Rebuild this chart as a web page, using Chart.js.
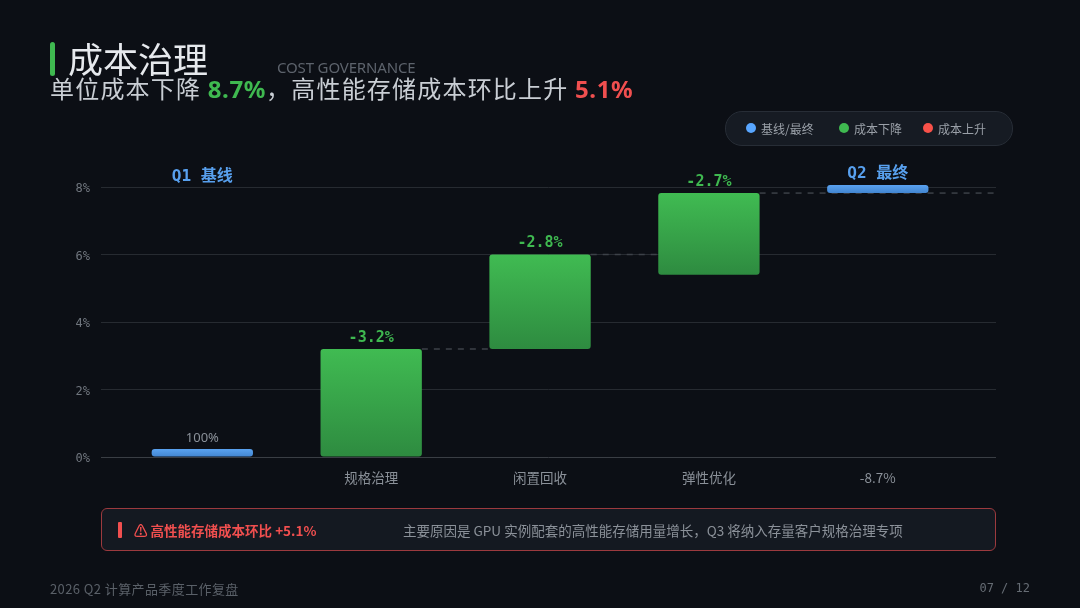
<!DOCTYPE html>
<html lang="zh">
<head>
<meta charset="utf-8">
<style>
  html, body { margin: 0; padding: 0; background: #0c0f15; }
  body { width: 1080px; height: 608px; position: relative; overflow: hidden; font-family: "Noto Sans CJK SC", "Noto Sans", sans-serif; }
  #cost { position: absolute; left: 0; top: 0; }
  .abs { position: absolute; white-space: nowrap; }
  #accent { left: 50px; top: 42px; width: 5px; height: 34px; background: #3fb950; border-radius: 3px; }
  #title { left: 68px; top: 34px; font-size: 35px; line-height: 48px; color: #e6e9ed; }
  #en { left: 277px; top: 57px; font-size: 15px; line-height: 20px; letter-spacing: -0.15px; color: #5d636c; font-family: "Noto Sans", sans-serif; }
  #sub { left: 50px; top: 70px; font-size: 24px; line-height: 36px; color: #c9ced4; letter-spacing: 1.2px; }
  #sub b { font-family: "Noto Sans", sans-serif; font-weight: 700; letter-spacing: 0.6px; }
  #legend { left: 725px; top: 111px; width: 286px; height: 33px; background: #161b23; border: 1px solid #272d36; border-radius: 17px; }
  .item { position: absolute; top: 0; line-height: 34px; font-size: 12px; color: #9aa0a8; }
  .item i { position: absolute; left: -15px; top: 11px; width: 10px; height: 10px; border-radius: 50%; }
  #callout { left: 101px; top: 508px; width: 893px; height: 41px; background: #141921; border: 1px solid #9c3a3e; border-radius: 6px; }
  #mark { left: 16px; top: 13px; width: 4px; height: 16px; background: #f04f4f; border-radius: 1px; }
  #warn { left: 32px; top: 0; line-height: 43px; font-size: 13.5px; font-weight: 700; color: #f04f4f; }
  #note { left: 301px; top: 0; line-height: 43px; font-size: 13.5px; color: #8b9199; }
  #foot { left: 50px; top: 579px; font-size: 13px; line-height: 20px; letter-spacing: 0.4px; color: #5a6068; }
  #page { right: 50px; top: 578px; font-size: 12px; line-height: 20px; color: #666c74; font-family: "DejaVu Sans Mono", monospace; }
</style>
</head>
<body>
<canvas id="cost" width="1080" height="608"></canvas>
<div class="abs" id="accent"></div>
<div class="abs" id="title">成本治理</div>
<div class="abs" id="en">COST GOVERNANCE</div>
<div class="abs" id="sub">单位成本下降 <b style="color:#3fb950">8.7%</b>，高性能存储成本环比上升 <b style="color:#f04f4f">5.1%</b></div>
<div class="abs" id="legend">
  <div class="item" style="left:35px"><i style="background:#58a6ff"></i>基线/最终</div>
  <div class="item" style="left:128px"><i style="background:#3fb950"></i>成本下降</div>
  <div class="item" style="left:212px"><i style="background:#f85149"></i>成本上升</div>
</div>
<div class="abs" id="callout">
  <div class="abs" id="mark"></div>
  <div class="abs" id="warn">⚠ 高性能存储成本环比 +5.1%</div>
  <div class="abs" id="note">主要原因是 GPU 实例配套的高性能存储用量增长，Q3 将纳入存量客户规格治理专项</div>
</div>
<div class="abs" id="foot">2026 Q2 计算产品季度工作复盘</div>
<div class="abs" id="page">07 / 12</div>

<script src="https://cdn.jsdelivr.net/npm/chart.js@4"></script>
<script>
const categories = ['', '规格治理', '闲置回收', '弹性优化', '-8.7%'];
const barLow = [0, 0, 3.2, 5.4, 7.82];
const barHigh = [0.24, 3.2, 6.0, 7.82, 8.06];
const barKinds = ['total', 'down', 'down', 'down', 'total'];
const valueLabels = ['100%', '-3.2%', '-2.8%', '-2.7%', ''];
const headLabels = ['Q1 基线', '', '', '', 'Q2 最终'];
const yTicks = [0, 2, 4, 6, 8];

const gradientStops = {
  total: ['#5aa2f0', '#4285d0'],
  down: ['#40bb52', '#2e8b40']
};

function barFill(ctx) {
  const chart = ctx.chart;
  if (!chart.chartArea || ctx.dataIndex === undefined) return '#3fb950';
  const y = chart.scales.y;
  const g = chart.ctx.createLinearGradient(0, y.getPixelForValue(barHigh[ctx.dataIndex]), 0, y.getPixelForValue(barLow[ctx.dataIndex]));
  const stops = gradientStops[barKinds[ctx.dataIndex]];
  g.addColorStop(0, stops[0]);
  g.addColorStop(1, stops[1]);
  return g;
}

// dashed connectors + text above the bars
const waterfall = {
  id: 'waterfall',
  beforeDatasetsDraw(chart) {
    const c = chart.ctx, y = chart.scales.y, bars = chart.getDatasetMeta(0).data;
    c.save();
    c.strokeStyle = '#3c4148';
    c.lineWidth = 1.5;
    c.setLineDash([6, 6]);
    for (let i = 1; i < 4; i++) {
      const py = y.getPixelForValue(barHigh[i]);
      const end = i === 3 ? chart.chartArea.right : bars[i + 1].x - bars[i + 1].width / 2;
      c.beginPath();
      c.moveTo(bars[i].x + bars[i].width / 2, py);
      c.lineTo(end, py);
      c.stroke();
    }
    c.restore();
  },
  afterDatasetsDraw(chart) {
    const c = chart.ctx, y = chart.scales.y, bars = chart.getDatasetMeta(0).data;
    c.save();
    c.textAlign = 'center';
    c.textBaseline = 'middle';
    bars.forEach((bar, i) => {
      const top = y.getPixelForValue(barHigh[i]);
      if (valueLabels[i]) {
        const isPlain = barKinds[i] === 'total';
        c.font = isPlain ? '13px "Noto Sans", sans-serif' : 'bold 15px "DejaVu Sans Mono", monospace';
        c.fillStyle = isPlain ? '#8b9199' : '#3fb950';
        c.fillText(valueLabels[i], bar.x, top - 11);
      }
      if (headLabels[i]) {
        c.font = 'bold 16px "DejaVu Sans Mono", "Noto Sans CJK SC", monospace';
        c.fillStyle = '#58a0ee';
        c.fillText(headLabels[i], bar.x, i === 0 ? y.getPixelForValue(8) - 10 : top - 11);
      }
    });
    c.restore();
  }
};

new Chart(document.getElementById('cost'), {
  type: 'bar',
  data: {
    datasets: [{
      data: categories.map((name, i) => ({ x: i, y: [barLow[i], barHigh[i]] })),
      backgroundColor: barFill,
      borderRadius: 3,
      borderSkipped: false,
      borderWidth: 0,
      categoryPercentage: 0.6,
      barPercentage: 1,
      clip: false
    }]
  },
  options: {
    responsive: false,
    animation: false,
    events: [],
    layout: { padding: { top: 187, right: 84, left: 0, bottom: 0 } },
    plugins: { legend: { display: false }, tooltip: { enabled: false } },
    scales: {
      x: {
        type: 'linear',
        offset: false,
        min: -0.6,
        max: 4.7,
        afterBuildTicks(scale) { scale.ticks = categories.map((n, i) => ({ value: i })); },
        afterFit(scale) { scale.height = 151; },
        grid: { display: false, offset: false, drawTicks: false },
        border: { display: false },
        ticks: {
          autoSkip: false,
          maxRotation: 0,
          padding: 13,
          color: '#8b9199',
          font: { size: 13.5, family: '"Noto Sans CJK SC", "Noto Sans", sans-serif' },
          callback: v => categories[v]
        }
      },
      y: {
        min: 0,
        max: 8,
        afterBuildTicks(scale) { scale.ticks = yTicks.map(v => ({ value: v })); },
        afterFit(scale) { scale.width = 101; },
        grid: {
          drawTicks: false,
          color: c => c.tick && c.tick.value === 0 ? '#3a3e44' : '#272b31'
        },
        border: { display: false },
        ticks: {
          padding: 11,
          color: '#70767e',
          // two-line label with a 4px line height nudges the text 2px below the gridline
          font: { size: 12, lineHeight: '4px', family: '"DejaVu Sans Mono", monospace' },
          callback: v => ['', v + '%']
        }
      }
    }
  },
  plugins: [waterfall]
});
</script>
</body>
</html>
